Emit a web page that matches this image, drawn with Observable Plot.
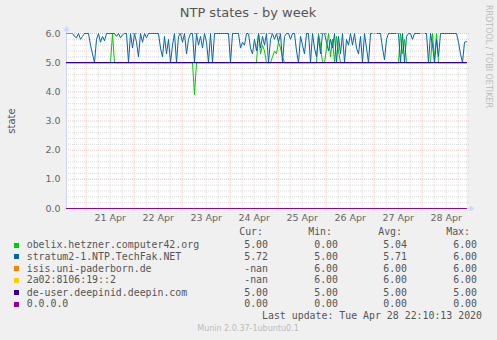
<!DOCTYPE html>
<html><head><meta charset="utf-8">
<script src="https://cdn.jsdelivr.net/npm/d3@7"></script>
<script src="https://cdn.jsdelivr.net/npm/@observablehq/plot@0.6"></script>
<style>
html,body{margin:0;padding:0;background:#F0F0F0;}
#wrap{position:relative;width:497px;height:340px;overflow:hidden;background:#F0F0F0;font-family:"DejaVu Sans",sans-serif;color:#666;}
#wrap svg{position:absolute;left:0;top:0;overflow:visible;}
.t{position:absolute;white-space:pre;}
.mono{font-family:"DejaVu Sans Mono",monospace;font-size:9.9px;line-height:12px;color:#555;}
.sw{position:absolute;width:5px;height:5px;}
</style></head>
<body><div id="wrap"></div>
<script>
const _ = null;
// hourly samples from 2020-04-20 14:10 to 2020-04-28 22:10 (UTC)
const obelix = [
5,5,5,5,5,5,5,5,5,5, 5,5,5,5,5,5,5,5,5,5, 5,5,5,6,5,5,5,5,5,5, 5,5,5,5,5,5,5,5,5,5,
5,5,5,5,5,5,5,5,5,5, 5,5,5,5,5,5,5,5,5,5, 5,5,5,5,3.9,5,5,5,5,5, 5,5,5,5,5,5,5,5,5,5,
5,5,5,5,5,5,5,5,5,5, 5,5,5,5,5,5,6,5.3,5.6,5.4, 5,5,5,5.2,5.4,5.3,5.7,5.5,5.2,5, 5,5,5,5,5,5,5,5,5,5,
5,5,5,5,5,5,6,5.6,5,5, 5.5,6,5.2,5.8,5,5.9,5.4,5,5,5, 5,5,5,5,5,5,5,5,5,5, 5,5,5,5,5,5,5,5,5,5,
5,5,5,5,5,5,5,6,5.3,5.8, 5,5,5,5,5,5,5,5,5,5, 5,5,5,6,5.1,6,5,5,5,5, 5,5,5,5,5,5,5,5,5,5,
5];
const stratum2 = [
6,6,6,6,5.9,5.85,6,5.8,5.9,6, 6,6,5.6,5.3,5,5.8,6,5.7,5.9,5.75, 6,6,6,6,6,5.9,6,5.85,5.95,6, 6,5,6,5.5,6,5.7,5.2,6,5.7,6,
5.85,6,6,6,6,6,6,5.5,5.2,5.9, 5.3,5.8,5,5.6,6,5,5.9,6,5.7,6, 5.3,5.8,6,6,5,6,5.6,5.9,5.5,6, 5.7,5,6,5,6,6,6,6,6,6,
6,6,5,6,6,6,6,5.5,5.7,5.6, 6,6,5.5,5.3,5.8,5.4,6,5.5,5.9,5.6, 6,5,5.8,6,5.8,6,5.7,6,5,5.9, 6,6,5.8,6,6,5.4,5,5.9,5.6,5.3,
6,6,5,6,5.5,5.2,5.9,5.3,6,6, 5.7,5.4,5.8,5.5,6,5,5.9,5.3,6,5, 5.8,5.6,6,5.6,6,5.5,5.3,5.9,5,6, 5.5,5,6,6,6,6,6,6,5.5,5.1,
5.8,6,6,6,6,6,6,5,6,5, 5.9,6,6,5.8,6,6,6,6,6,6, 6,5,6,5.6,5,5.8,5.2,6,6,6, 6,6,6,6,6,6,5.7,5.3,5,5.7,
5.72];
const isis = [
6,6,6,6,_,_,_,_,_,_, _,_,_,_,_,_,_,_,_,_, _,_,_,_,_,_,_,_,_,_, _,_,_,6,6,6,_,_,_,_,
_,_,_,_,_,_,_,_,_,_, _,_,_,_,_,_,6,6,6,_, _,_,_,_,6,6,6,_,_,_, _,_,_,_,_,_,_,_,_,_,
_,_,_,_,_,_,_,_,_,_, _,_,_,_,_,_,_,6,6,6, _,6,6,6,_,6,6,6,_,_, _,_,_,_,_,_,_,_,_,_,
_,_,_,_,_,_,_,6,6,6, 6,_,_,_,_,_,_,_,_,_, _,_,_,_,_,_,_,_,_,_, _,_,_,_,_,_,_,_,_,_,
_,_,_,_,_,6,6,6,_,_, _,_,_,_,_,_,_,_,_,_, _,_,_,_,_,_,_,_,_,_, _,_,_,_,_,_,_,_,_,_,
_];
const v6peer = [
_,_,_,_,_,_,_,_,_,_, _,_,_,_,_,_,_,_,_,_, _,_,_,_,_,_,_,_,_,_, _,_,_,_,_,_,_,_,_,_,
_,_,_,_,_,_,_,_,_,_, _,_,_,_,_,_,_,_,_,_, _,_,_,_,_,_,_,_,_,_, _,_,_,_,_,_,_,_,_,_,
_,_,_,_,_,_,_,_,_,_, _,6,6,6,_,_,_,_,_,_, _,_,_,_,_,_,_,_,_,_, _,_,_,_,_,_,_,_,_,_,
_,_,_,_,_,_,_,_,_,_, _,_,_,_,_,_,_,_,_,_, _,_,_,_,_,_,_,_,_,_, _,_,_,6,6,6,_,_,_,_,
_,_,_,_,_,_,_,_,_,_, _,_,_,_,_,_,_,6,6,6, _,_,_,_,_,_,_,_,_,_, _,_,_,_,_,_,_,_,_,_,
_];
const deepin = [
5,5,5,5,5,5,5,5,5,5, 5,5,5,5,5,5,5,5,5,5, 5,5,5,5,5,5,5,5,5,5, 5,5,5,5,5,5,5,5,5,5,
5,5,5,5,5,5,5,5,5,5, 5,5,5,5,5,5,5,5,5,5, 5,5,5,5,5,5,5,5,5,5, 5,5,5,5,5,5,5,5,5,5,
5,5,5,5,5,5,5,5,5,5, 5,5,5,5,5,5,5,5,5,5, 5,5,5,5,5,5,5,5,5,5, 5,5,5,5,5,5,5,5,5,5,
5,5,5,5,5,5,5,5,5,5, 5,5,5,5,5,5,5,5,5,5, 5,5,5,5,5,5,5,5,5,5, 5,5,5,5,5,5,5,5,5,5,
5,5,5,5,5,5,5,5,5,5, 5,5,5,5,5,5,5,5,5,5, 5,5,5,5,5,5,5,5,5,5, 5,5,5,5,5,5,5,5,5,5,
5];
const nullpeer = [
0,0,0,0,0,0,0,0,0,0, 0,0,0,0,0,0,0,0,0,0, 0,0,0,0,0,0,0,0,0,0, 0,0,0,0,0,0,0,0,0,0,
0,0,0,0,0,0,0,0,0,0, 0,0,0,0,0,0,0,0,0,0, 0,0,0,0,0,0,0,0,0,0, 0,0,0,0,0,0,0,0,0,0,
0,0,0,0,0,0,0,0,0,0, 0,0,0,0,0,0,0,0,0,0, 0,0,0,0,0,0,0,0,0,0, 0,0,0,0,0,0,0,0,0,0,
0,0,0,0,0,0,0,0,0,0, 0,0,0,0,0,0,0,0,0,0, 0,0,0,0,0,0,0,0,0,0, 0,0,0,0,0,0,0,0,0,0,
0,0,0,0,0,0,0,0,0,0, 0,0,0,0,0,0,0,0,0,0, 0,0,0,0,0,0,0,0,0,0, 0,0,0,0,0,0,0,0,0,0,
0];

const seriesNames = ["obelix.hetzner.computer42.org","stratum2-1.NTP.TechFak.NET","isis.uni-paderborn.de","2a02:8106:19::2","de-user.deepinid.deepin.com","0.0.0.0"];
const seriesColors = ["#00CC00","#0066B3","#FF8000","#FFCC00","#330099","#990099"];
const curVals = ["5.00","5.72","-nan","-nan","5.00","0.00"];
const minVals = ["0.00","5.00","6.00","6.00","5.00","0.00"];
const avgVals = ["5.04","5.71","6.00","6.00","5.00","0.00"];
const maxVals = ["6.00","6.00","6.00","6.00","5.00","0.00"];
const dayLabels = ["21 Apr","22 Apr","23 Apr","24 Apr","25 Apr","26 Apr","27 Apr","28 Apr"];
const yTicks = [0,1,2,3,4,5,6];
const yTickLabels = ["0.0","1.0","2.0","3.0","4.0","5.0","6.0"];

const H = 3600e3;
const start = new Date(Date.UTC(2020,3,20,14,10));
const end = new Date(Date.UTC(2020,3,28,22,10));
const times = stratum2.map((_, i) => new Date(+start + i*H));
const allSeries = [obelix, stratum2, isis, v6peer, deepin, nullpeer];
const rows = [];
allSeries.forEach((arr, s) => arr.forEach((v, i) => rows.push({t: times[i], v: v == null ? NaN : v, s})));

const noonDates = dayLabels.map((_, i) => new Date(Date.UTC(2020,3,21+i,12)));
const labelByTime = new Map(noonDates.map((d,i)=>[+d, dayLabels[i]]));
const minorY = d3.range(1, 30).map(k => k/5).filter(v => Math.abs(v - Math.round(v)) > 1e-6);
const minorX = d3.utcHour.every(6).range(start, end).filter(d => d.getUTCHours() !== 0);
const majorX = d3.utcDay.range(start, end);
const gridRight = new Date(+end + 1.5*H);
const arrowRight = new Date(+end + 2.4*H);

const minorStyle = {stroke:"#8c8c8c", strokeOpacity:0.3, strokeDasharray:"1,1"};
const majorStyle = {stroke:"#e35050", strokeOpacity:0.35, strokeDasharray:"1,1"};

const plot = Plot.plot({
  width: 497, height: 225,
  marginLeft: 66, marginRight: 31, marginTop: 33, marginBottom: 17,
  style: {fontFamily:"DejaVu Sans", fontSize:"9.5px", color:"#666", background:"transparent", overflow:"visible"},
  x: {type:"utc", domain:[start, end], axis:null},
  y: {domain:[0,6], axis:null},
  marks: [
    Plot.frame({fill:"white", stroke:null}),
    Plot.ruleY(minorY, {x1: start, x2: gridRight, ...minorStyle}),
    Plot.ruleX(minorX, {y1: -0.1, y2: 6, ...minorStyle}),
    Plot.ruleY(yTicks.slice(1), {x1: start, x2: gridRight, ...majorStyle}),
    Plot.ruleX(majorX, {y1: -0.1, y2: 6, ...majorStyle}),
    Plot.ruleX([start], {y1: 0, y2: 6.15, stroke:"#CFD6F8"}),
    Plot.ruleY([0], {x1: start, x2: arrowRight, stroke:"#CFD6F8"}),
    Plot.dot([0], {x: () => start, y: () => 6.15, symbol:"triangle", r:2.2, fill:"#CFD6F8", stroke:null}),
    Plot.dot([0], {x: () => arrowRight, y: () => 0, symbol:"triangle", r:2.2, rotate:90, fill:"#CFD6F8", stroke:null}),
    ...allSeries.map((_, s) => Plot.line(rows.filter(r => r.s === s), {x:"t", y:"v", stroke: seriesColors[s], strokeWidth: s >= 4 ? 1.2 : 1, curve:"linear"})),
    Plot.axisY(yTicks, {label:null, tickSize:0, tickPadding:6, tickFormat: d => yTickLabels[yTicks.indexOf(d)], fill:"#666"}),
    Plot.axisX(noonDates, {label:null, tickSize:0, tickPadding:6, tickFormat: d => labelByTime.get(+d), fill:"#666"})
  ]
});
const wrap = document.getElementById("wrap");
wrap.appendChild(plot);

function addText(txt, x, cy, align, cls, extra) {
  const el = document.createElement("div");
  el.className = "t " + (cls || "");
  el.textContent = txt;
  const lh = (extra && extra.lh) || 12;
  el.style.lineHeight = lh + "px";
  el.style.top = (cy - lh/2) + "px";
  if (align === "left") el.style.left = x + "px";
  else if (align === "right") { el.style.right = (497 - x) + "px"; el.style.textAlign = "right"; }
  else { el.style.left = (x - 200) + "px"; el.style.width = "400px"; el.style.textAlign = "center"; }
  if (extra) Object.assign(el.style, extra.style || {});
  wrap.appendChild(el);
  return el;
}

addText("NTP states - by week", 248, 13.3, "center", "", {lh:16, style:{fontSize:"13px", color:"#555"}});
const yl = addText("state", 0, 0, "left", "", {lh:12, style:{fontSize:"10px", color:"#555"}});
yl.style.left = "-8px"; yl.style.top = "114.5px"; yl.style.width = "40px"; yl.style.textAlign = "center";
yl.style.transform = "rotate(-90deg)";
const side = addText("RRDTOOL / TOBI OETIKER", 0, 0, "left", "", {lh:10, style:{fontSize:"8px", color:"#bbb"}});
side.style.left = "483px"; side.style.top = "5px"; side.style.writingMode = "vertical-rl";

const headerY = 232.3;
addText("Cur:", 263, headerY, "right", "mono");
addText("Min:", 332, headerY, "right", "mono");
addText("Avg:", 402, headerY, "right", "mono");
addText("Max:", 470, headerY, "right", "mono");
const rowY = [245, 256.9, 268.6, 280.4, 292.5, 304.3];
seriesNames.forEach((name, i) => {
  const sw = document.createElement("div");
  sw.className = "sw";
  sw.style.background = seriesColors[i];
  sw.style.left = "14px";
  sw.style.top = (rowY[i] - 2.5) + "px";
  wrap.appendChild(sw);
  addText(name, 26.7, rowY[i], "left", "mono");
  addText(curVals[i], 268, rowY[i], "right", "mono");
  addText(minVals[i], 338, rowY[i], "right", "mono");
  addText(avgVals[i], 407, rowY[i], "right", "mono");
  addText(maxVals[i], 477, rowY[i], "right", "mono");
});
addText("Last update: Tue Apr 28 22:10:13 2020", 482, 316, "right", "mono");
addText("Munin 2.0.37-1ubuntu0.1", 248, 329, "center", "", {lh:10, style:{fontSize:"8px", color:"#bbb"}});
</script>
</body></html>
